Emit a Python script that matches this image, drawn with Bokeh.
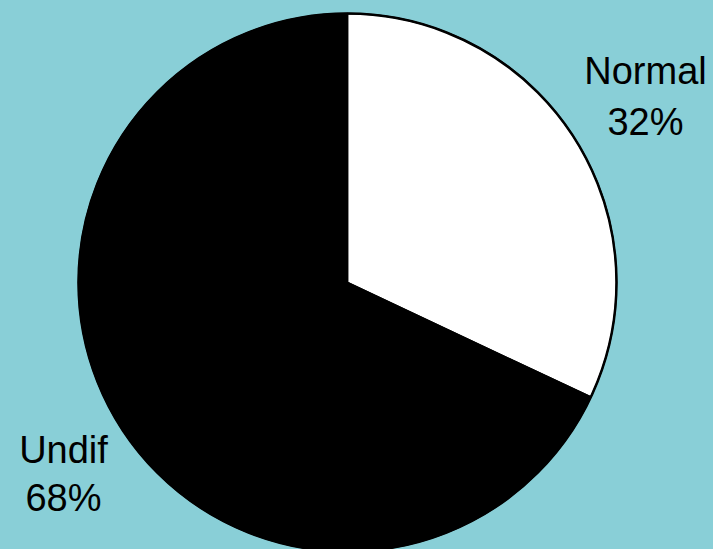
import math
from bokeh.plotting import figure
from bokeh.models import ColumnDataSource, Range1d
from bokeh.core.properties import value
from bokeh.embed import file_html
from bokeh.resources import INLINE

categories = ["Normal", "Undif"]
percents = [32, 68]
colors = ["#FFFFFF", "#000000"]

W, H = 713, 549
BG = "#89CFD7"
cx, cy, r = 347, H - 282, 269

# clockwise from 12 o'clock
starts, ends = [], []
cur = 90.0
for pct in percents:
    sweep = pct / 100 * 360
    starts.append(math.radians(cur - sweep))
    ends.append(math.radians(cur))
    cur -= sweep

src = ColumnDataSource(dict(cat=categories, pct=percents, color=colors,
                            start=starts, end=ends,
                            x=[cx] * 2, y=[cy] * 2))

p = figure(width=W, height=H, output_backend="svg", toolbar_location=None,
           x_range=Range1d(0, W), y_range=Range1d(0, H),
           background_fill_color=BG, border_fill_color=BG,
           min_border=0, outline_line_color=None)
p.axis.visible = False
p.grid.visible = False

p.wedge(x="x", y="y", radius=r, start_angle="start", end_angle="end",
        fill_color="color", line_color="black", line_width=1.5, source=src)
p.circle(x=[cx], y=[cy], radius=r, fill_color=None, line_color="black", line_width=2.5)

labels = ColumnDataSource(dict(
    x=[645, 645, 63, 63],
    y=[H - 70, H - 121, H - 449, H - 497],
    t=[categories[0], f"{percents[0]}%", categories[1], f"{percents[1]}%"],
))
p.text(x="x", y="y", text="t", source=labels, text_align="center",
       text_baseline="middle", text_font=value("Liberation Sans"),
       text_font_size="38px", text_color="black")

template = """
{% block postamble %}
{{ super() }}
<style>html, body { margin: 0 !important; padding: 0; background: #89CFD7; overflow: hidden; }</style>
{% endblock %}
"""

open("out.html", "w").write(file_html(p, INLINE, template=template))
